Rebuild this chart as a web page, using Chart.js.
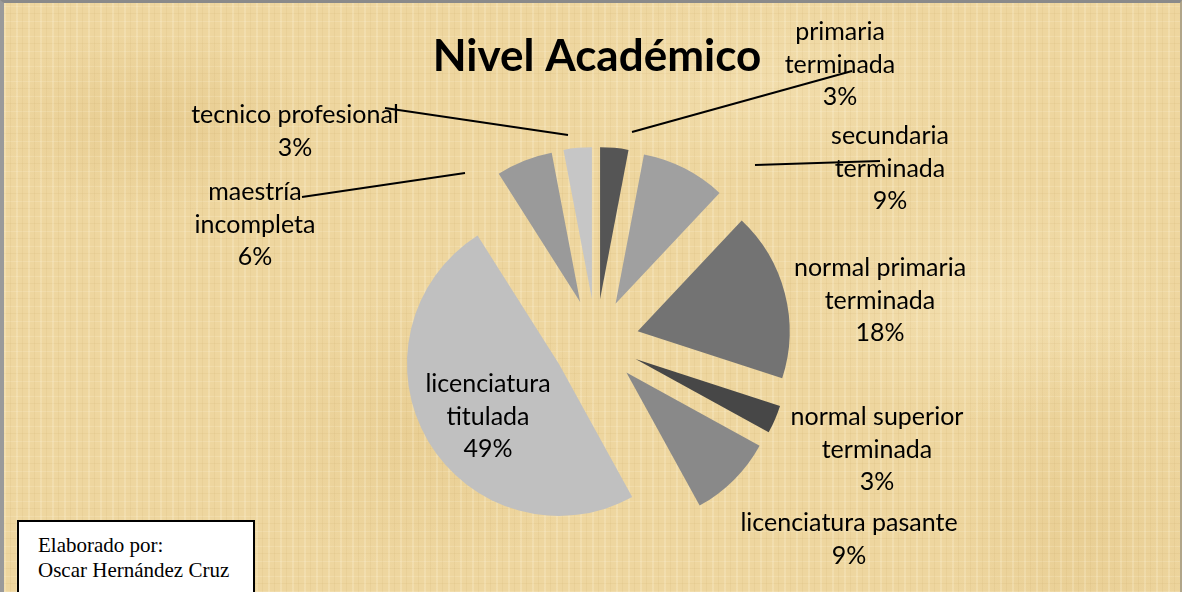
<!DOCTYPE html>
<html lang="es">
<head>
<meta charset="utf-8">
<script src="https://cdn.jsdelivr.net/npm/chart.js@4.4.1/dist/chart.umd.min.js"></script>
<style>
  html, body { margin: 0; padding: 0; }
  body { width: 1182px; height: 592px; overflow: hidden; position: relative; }
  #paper {
    position: absolute; left: 0; top: 0; width: 1182px; height: 592px; box-sizing: border-box;
    border-top: 3px solid #8a8a8a; border-left: 4px solid #9a9a9a; border-right: 2px solid #b0a488;
    background-color: #eed69f;
    background-image:
      repeating-linear-gradient(90deg, rgba(255,248,225,0.22) 0 2px, transparent 2px 6px, rgba(170,130,55,0.07) 6px 7px, transparent 7px 12px),
      repeating-linear-gradient(0deg, rgba(255,248,225,0.18) 0 1px, transparent 1px 8px, rgba(165,125,50,0.07) 8px 9px, transparent 9px 15px),
      radial-gradient(ellipse 160px 90px at 150px 120px, rgba(200,160,80,0.18), transparent),
      radial-gradient(ellipse 200px 120px at 980px 300px, rgba(255,245,215,0.25), transparent),
      radial-gradient(ellipse 180px 140px at 420px 430px, rgba(205,165,85,0.15), transparent),
      radial-gradient(ellipse 220px 100px at 760px 80px, rgba(255,245,215,0.22), transparent),
      radial-gradient(ellipse 140px 200px at 1080px 520px, rgba(200,160,80,0.14), transparent);
  }
  #chart { position: absolute; left: 0; top: 0; }
  #credit {
    position: absolute; left: 17px; top: 520px; width: 238px; height: 80px; box-sizing: border-box;
    background: #fff; border: 2px solid #000; padding: 11px 0 0 19px;
    font-family: "Liberation Serif", "DejaVu Serif", serif; font-size: 21px; line-height: 25px; color: #000;
  }
</style>
</head>
<body>
<div id="paper"></div>
<canvas id="chart" width="1182" height="592"></canvas>
<div id="credit">Elaborado por:<br>Oscar Hernández Cruz</div>
<script>
  const categories = [
    'primaria terminada',
    'secundaria terminada',
    'normal primaria terminada',
    'normal superior terminada',
    'licenciatura pasante',
    'licenciatura titulada',
    'maestría incompleta',
    'tecnico profesional'
  ];
  const percentages = [3, 9, 18, 3, 9, 49, 6, 3];
  const sliceColors = ['#555555', '#a0a0a0', '#737373', '#474747', '#898989', '#c0c0c0', '#9a9a9a', '#c6c6c6'];
  const chartTitle = 'Nivel Académico';

  // label text lines plus where each label sits
  const labelLines = [
    ['primaria', 'terminada'],
    ['secundaria', 'terminada'],
    ['normal primaria', 'terminada'],
    ['normal superior', 'terminada'],
    ['licenciatura pasante'],
    ['licenciatura', 'titulada'],
    ['maestría', 'incompleta'],
    ['tecnico profesional']
  ];
  const labelLayout = [
    { x: 840, y: 32, line: [[852, 71], [632, 132]] },
    { x: 890, y: 136, line: [[880, 161], [755, 165]] },
    { x: 880, y: 268 },
    { x: 877, y: 417 },
    { x: 849, y: 523 },
    { x: 488, y: 384 },
    { x: 255, y: 192, line: [[302, 197], [465, 173]] },
    { x: 295, y: 115, line: [[385, 108], [568, 135]] }
  ];

  const labelFont = '25px Lato, "Open Sans", sans-serif';
  const lineGap = 32.5;
  const explode = 43;

  // every slice pushed out by the same distance along its middle angle
  const explodePlugin = {
    id: 'explodeSlices',
    beforeDatasetDraw(chart, args) {
      const ctx = chart.ctx;
      args.meta.data.forEach(arc => {
        const mid = (arc.startAngle + arc.endAngle) / 2;
        ctx.save();
        ctx.translate(Math.cos(mid) * explode, Math.sin(mid) * explode);
        arc.draw(ctx);
        ctx.restore();
      });
      return false;
    }
  };

  const labelsPlugin = {
    id: 'pieLabels',
    afterDraw(chart) {
      const ctx = chart.ctx;
      ctx.save();
      ctx.fillStyle = '#000';
      ctx.textAlign = 'center';
      ctx.textBaseline = 'middle';
      ctx.font = 'bold 44px Lato, "Open Sans", sans-serif';
      ctx.fillText(chartTitle, 597, 57);

      ctx.font = labelFont;
      labelLines.forEach((lines, i) => {
        const pos = labelLayout[i];
        const rows = lines.concat([percentages[i] + '%']);
        rows.forEach((t, k) => ctx.fillText(t, pos.x, pos.y + k * lineGap));
        if (pos.line) {
          ctx.strokeStyle = '#000';
          ctx.lineWidth = 2;
          ctx.beginPath();
          ctx.moveTo(pos.line[0][0], pos.line[0][1]);
          ctx.lineTo(pos.line[1][0], pos.line[1][1]);
          ctx.stroke();
        }
      });
      ctx.restore();
    }
  };

  new Chart(document.getElementById('chart').getContext('2d'), {
    type: 'pie',
    data: {
      labels: categories,
      datasets: [{
        data: percentages,
        backgroundColor: sliceColors,
        borderWidth: 0,
        offset: 0,
        hoverOffset: 0
      }]
    },
    options: {
      responsive: false,
      animation: false,
      layout: { padding: { left: 444, right: 434, top: 190, bottom: 98 } },
      plugins: {
        legend: { display: false },
        title: { display: false },
        tooltip: { enabled: false }
      },
      events: []
    },
    plugins: [explodePlugin, labelsPlugin]
  });
</script>
</body>
</html>
